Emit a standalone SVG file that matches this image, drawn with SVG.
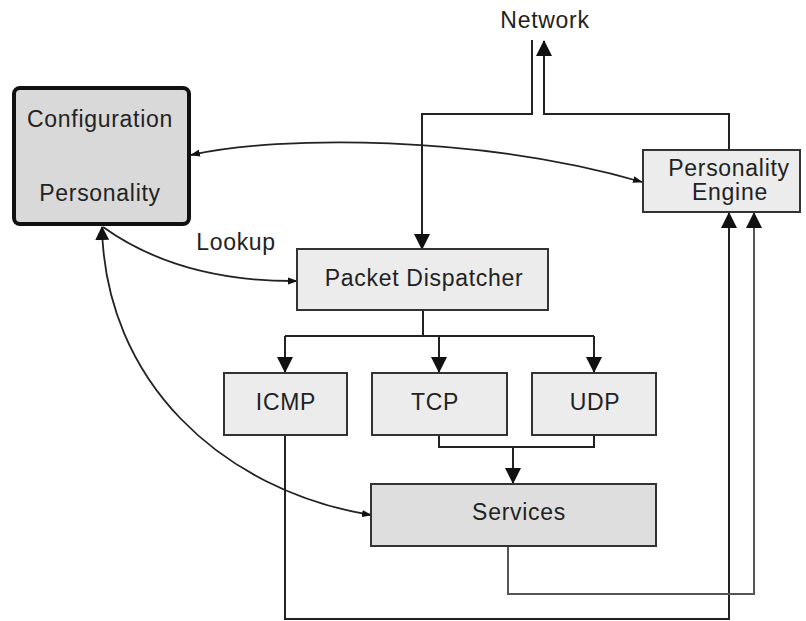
<svg xmlns="http://www.w3.org/2000/svg" width="806" height="621" viewBox="0 0 806 621">
<defs>
<style>
.box{fill:#ececec;stroke:#333;stroke-width:2}
.dark{fill:#dedede}
.t{font-family:"Liberation Sans",Arial,sans-serif;font-size:23px;letter-spacing:0.7px;fill:#222;text-anchor:middle}
.c{fill:none;stroke:#222;stroke-width:2}
.cv{fill:none;stroke:#222;stroke-width:1.8}
</style>
<marker id="big" markerWidth="16" markerHeight="18" refX="15" refY="8" orient="auto" markerUnits="userSpaceOnUse" viewBox="0 0 16 16">
<path d="M0,0 L16,8 L0,16 Z" fill="#111"/>
</marker>
<marker id="sm" markerWidth="10" markerHeight="8" refX="9" refY="4" orient="auto" markerUnits="userSpaceOnUse" viewBox="0 0 10 8">
<path d="M0,0.5 L10,4 L0,7.5 Z" fill="#111"/>
</marker>
<marker id="smstart" markerWidth="10" markerHeight="8" refX="1" refY="4" orient="auto" markerUnits="userSpaceOnUse" viewBox="0 0 10 8">
<path d="M10,0.5 L0,4 L10,7.5 Z" fill="#111"/>
</marker>
<marker id="bigstart" markerWidth="14" markerHeight="14" refX="1" refY="7" orient="auto" markerUnits="userSpaceOnUse" viewBox="0 0 14 14">
<path d="M14,0 L0,7 L14,14 Z" fill="#111"/>
</marker>
</defs>
<rect width="806" height="621" fill="#fff"/>

<g id="connectors">
<path class="c" d="M532,40 V114 H422 V249" marker-end="url(#big)"/>
<path class="c" d="M729,150 V114 H544 V41" marker-end="url(#big)"/>
<path class="c" d="M423,310 V336"/>
<path class="c" d="M285,336 H594"/>
<path class="c" d="M285,336 V372" marker-end="url(#big)"/>
<path class="c" d="M439,336 V372" marker-end="url(#big)"/>
<path class="c" d="M594,336 V372" marker-end="url(#big)"/>
<path class="c" d="M439,435 V447 H594 V435"/>
<path class="c" d="M513,447 V483" marker-end="url(#big)"/>
<path class="c" d="M285,435 V619 H729 V213" marker-end="url(#big)"/>
<path class="c" style="stroke:#555" d="M508,546 V594 H754 V213" marker-end="url(#big)"/>
<path class="cv" d="M191,155 C280,135 480,135 642,182" marker-start="url(#smstart)" marker-end="url(#sm)"/>
<path class="cv" d="M103,227 Q180,282 297,281" marker-end="url(#sm)"/>
<path class="cv" d="M102,227 C105,380 220,490 371,515" marker-start="url(#bigstart)" marker-end="url(#sm)"/>
</g>

<g id="configuration">
<rect x="14" y="88" width="175" height="136" rx="6" fill="#d9d9d9" stroke="#111" stroke-width="4"/>
<text class="t" x="100" y="127">Configuration</text>
<text class="t" x="100" y="201">Personality</text>
</g>

<g id="network">
<text class="t" x="545" y="28">Network</text>
</g>

<g id="personality-engine">
<rect class="box" x="643" y="150" width="157" height="62"/>
<text class="t" x="729" y="176">Personality</text>
<text class="t" x="730" y="200">Engine</text>
</g>

<g id="lookup">
<text class="t" x="236" y="250">Lookup</text>
</g>

<g id="packet-dispatcher">
<rect class="box" x="297" y="249" width="251" height="61"/>
<text class="t" x="424" y="286">Packet Dispatcher</text>
</g>

<g id="icmp">
<rect class="box" x="224" y="373" width="123" height="62"/>
<text class="t" x="286" y="410">ICMP</text>
</g>

<g id="tcp">
<rect class="box" x="372" y="373" width="135" height="62"/>
<text class="t" x="435" y="410">TCP</text>
</g>

<g id="udp">
<rect class="box" x="532" y="373" width="124" height="62"/>
<text class="t" x="595" y="410">UDP</text>
</g>

<g id="services">
<rect class="box dark" x="371" y="484" width="285" height="62"/>
<text class="t" x="519" y="520">Services</text>
</g>
</svg>
